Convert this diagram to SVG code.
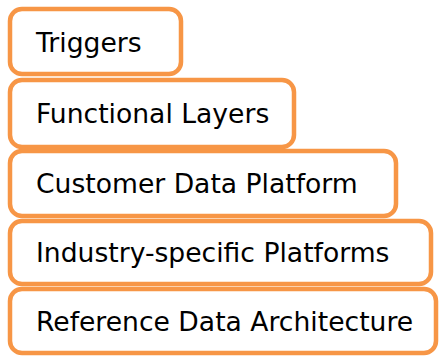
<svg xmlns="http://www.w3.org/2000/svg" width="439" height="358" viewBox="0 0 439 358">
<style>
.box{fill:#ffffff;stroke:#F79646;stroke-width:4.5}
.lbl{font-family:"DejaVu Sans",Verdana,sans-serif;font-size:26.6px;fill:#000000}
</style>
<rect width="439" height="358" fill="#ffffff"/>
<g id="reference-data-architecture"><rect class="box" x="10" y="289" width="426" height="64" rx="12"/><text class="lbl" x="36" y="331">Reference Data Architecture</text></g>
<g id="industry-specific-platforms"><rect class="box" x="10" y="221" width="421" height="63" rx="12"/><text class="lbl" x="36" y="262">Industry-specific Platforms</text></g>
<g id="customer-data-platform"><rect class="box" x="10" y="151" width="386" height="65" rx="12"/><text class="lbl" x="36" y="193">Customer Data Platform</text></g>
<g id="functional-layers"><rect class="box" x="10" y="80" width="284" height="67" rx="12"/><text class="lbl" x="36" y="123">Functional Layers</text></g>
<g id="triggers"><rect class="box" x="10" y="9" width="171" height="65" rx="12"/><text class="lbl" x="36" y="52">Triggers</text></g>
<g id="connectors"></g>
</svg>
